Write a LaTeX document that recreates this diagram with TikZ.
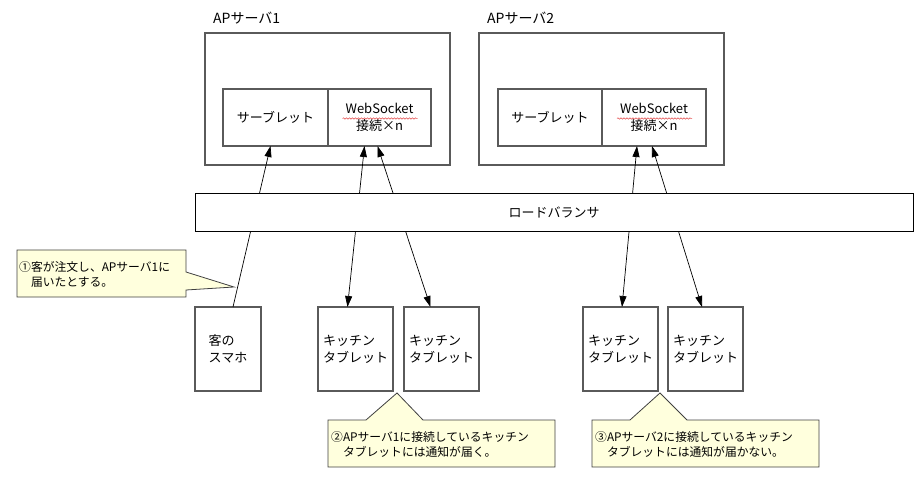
\documentclass[tikz,border=0pt]{standalone}
\usepackage{fontspec}
\setmainfont{Noto Sans CJK JP}
\usetikzlibrary{arrows.meta,positioning,calc,decorations.pathmorphing}
\definecolor{Edge}{HTML}{5A5A5A}
\definecolor{Note}{HTML}{FFFFDD}
\definecolor{NoteLine}{HTML}{404040}
\definecolor{Wavy}{HTML}{E34848}
\tikzset{box/.style={draw=Edge,fill=white,line width=1.1pt,outer sep=0pt,inner sep=0pt,align=center,font=\fontsize{13}{17}\selectfont},flow/.style={>={Triangle[length=11pt,width=7pt]},line width=.7pt},lab/.style={font=\fontsize{14}{17}\selectfont,inner sep=0pt},note/.style={fill=Note,draw=NoteLine,line width=.8pt},notetext/.style={font=\fontsize{11.8}{15.5}\selectfont,align=left,inner sep=0pt,anchor=north west}}

\begin{document}
\begin{tikzpicture}[x=1pt,y=-1pt]
\useasboundingbox (0,0) rectangle (924,481);
% AP servers
\node[box,minimum width=245pt,minimum height=132pt] (svA) at (327.5,99) {};
\node[box,minimum width=245pt,minimum height=132pt] (svB) at (601.5,99) {};
\node[lab,anchor=west] (capA) at (213,18) {APサーバ1};
\node[lab,anchor=west] (capB) at (487,18) {APサーバ2};
\node[box,minimum width=105pt,minimum height=57pt] (srvA) at (275.5,117.5) {サーブレット};
\node[box,minimum width=103pt,minimum height=57pt,right=0pt of srvA] (wsA) {WebSocket\\接続×n};
\node[box,minimum width=104pt,minimum height=57pt] (srvB) at (550,117.5) {サーブレット};
\node[box,minimum width=104pt,minimum height=57pt,right=0pt of srvB] (wsB) {WebSocket\\接続×n};
\draw[Wavy,line width=.5pt,decorate,decoration={snake,amplitude=.7pt,segment length=3pt}] ([xshift=-37pt,yshift=-1pt]wsA.center) -- ([xshift=38pt,yshift=-1pt]wsA.center);
\draw[Wavy,line width=.5pt,decorate,decoration={snake,amplitude=.7pt,segment length=3pt}] ([xshift=-37pt,yshift=-1pt]wsB.center) -- ([xshift=38pt,yshift=-1pt]wsB.center);
% clients
\node[box,align=left,minimum width=66pt,minimum height=84pt] (phone) at (228,349) {客の\\スマホ};
\node[box,align=left,minimum width=75pt,minimum height=84pt] (tabA1) at (355.5,349) {キッチン\\タブレット};
\node[box,align=left,minimum width=75pt,minimum height=84pt,right=11pt of tabA1] (tabA2) {キッチン\\タブレット};
\node[box,align=left,minimum width=75pt,minimum height=84pt] (tabB1) at (620.5,349) {キッチン\\タブレット};
\node[box,align=left,minimum width=75pt,minimum height=84pt,right=10pt of tabB1] (tabB2) {キッチン\\タブレット};
% links
\draw[flow,->] ([xshift=5pt]phone.north) -- ([xshift=-5pt]srvA.south);
\draw[flow,<->] ([xshift=-15pt]wsA.south) -- ([xshift=-8pt]tabA1.north);
\draw[flow,<->] ([xshift=-2pt]wsA.south) -- ([xshift=-11pt]tabA2.north);
\draw[flow,<->] ([xshift=-17pt]wsB.south) -- ([xshift=1.5pt]tabB1.north);
\draw[flow,<->] ([xshift=-2pt]wsB.south) -- ([xshift=-3.5pt]tabB2.north);
\node[box,draw=black,line width=.8pt,minimum width=718pt,minimum height=38pt] (lb) at (554,212) {ロードバランサ};
% notes
\draw[note] (17,250) -- (186,250) -- (186,272) -- (234,287) -- (186,290) -- (186,297) -- (17,297) -- cycle;
\node[notetext] (n1) at (19,261) {①客が注文し、APサーバ1に\\\hspace{1em}届いたとする。};
\draw[note] (328,420) -- (366,420) -- (397,393) -- (423,420) -- (555,420) -- (555,467) -- (328,467) -- cycle;
\node[notetext] (n2) at (331,431) {②APサーバ1に接続しているキッチン\\\hspace{1em}タブレットには通知が届く。};
\draw[note] (592,420) -- (630,420) -- (660,393) -- (687,420) -- (819,420) -- (819,467) -- (592,467) -- cycle;
\node[notetext] (n3) at (595,431) {③APサーバ2に接続しているキッチン\\\hspace{1em}タブレットには通知が届かない。};
\end{tikzpicture}
\end{document}
